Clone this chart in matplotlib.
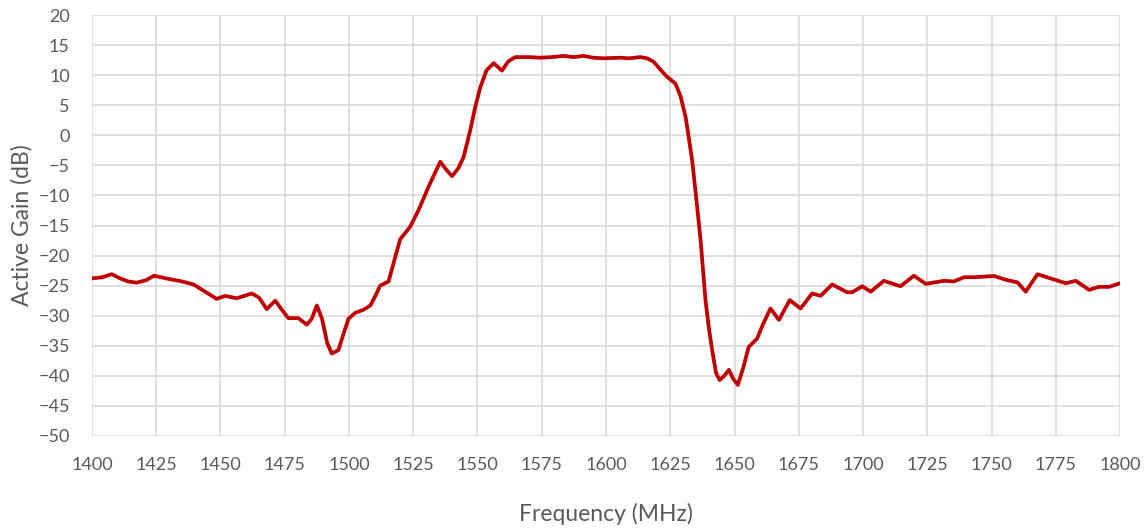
import matplotlib
matplotlib.use("Agg")
import matplotlib.pyplot as plt
import numpy as np

freq_mhz = [1400, 1404, 1407.7, 1411, 1414, 1417.4, 1421, 1424.1, 1430, 1435, 1439.5, 1444,
            1448.5, 1451.8, 1456.3, 1462.2, 1465, 1468.0, 1471.3, 1473.5, 1476.4, 1480.3,
            1483.6, 1485.5, 1487.5, 1489.5, 1491.5, 1493.3, 1495.9, 1497.5, 1499.8, 1502.5,
            1505.7, 1508.3, 1510.5, 1512.1, 1515.4, 1517.5, 1519.9, 1523.8, 1527, 1531,
            1535.5, 1538, 1540.1, 1542.5, 1544.6, 1547.2, 1549, 1551.1, 1553.5, 1556.3,
            1559.5, 1562, 1564.7, 1570, 1574.5, 1579, 1583.5, 1587.4, 1591.3, 1595, 1599.1,
            1605.6, 1609, 1613.4, 1616, 1618.6, 1621, 1623.8, 1627.0, 1629, 1631, 1633.5,
            1635, 1636.8, 1638.7, 1640, 1641.3, 1642.8, 1644.2, 1646, 1647.8, 1649.5, 1651.3,
            1653.5, 1655.5, 1658.8, 1661, 1664.0, 1667.3, 1671.5, 1675.7, 1680.2, 1683.5,
            1688.0, 1693.8, 1695.8, 1699.7, 1703.0, 1708.1, 1714.6, 1719.8, 1724.4, 1731.5,
            1735.4, 1739.3, 1743.2, 1751.0, 1756.2, 1760.1, 1763.3, 1767.9, 1773.0, 1778.9,
            1782.8, 1788.0, 1791.9, 1795.8, 1800]
gain_db = [-23.8, -23.6, -23.1, -23.8, -24.3, -24.5, -24.1, -23.35, -23.9, -24.3, -24.8, -26.0,
           -27.2, -26.7, -27.1, -26.3, -27.0, -28.9, -27.5, -28.8, -30.4, -30.4,
           -31.5, -30.5, -28.3, -30.5, -34.5, -36.3, -35.7, -33.5, -30.5, -29.5,
           -29.0, -28.3, -26.5, -25.0, -24.3, -21.0, -17.3, -15.2, -12.5, -8.5,
           -4.4, -5.8, -6.8, -5.5, -3.6, 0.9, 4.5, 8.0, 10.8, 12.0,
           10.75, 12.3, 13.0, 13.0, 12.9, 13.0, 13.2, 13.0, 13.2, 12.9, 12.8,
           12.9, 12.8, 13.0, 12.8, 12.2, 11.0, 9.7, 8.6, 6.5, 3.0, -4.1,
           -10.0, -17.4, -27.4, -32.0, -35.7, -39.5, -40.7, -40.0, -39.0, -40.5, -41.5,
           -38.5, -35.2, -33.8, -31.5, -28.8, -30.7, -27.4, -28.8, -26.3, -26.7,
           -24.8, -26.1, -26.1, -25.1, -26.0, -24.2, -25.1, -23.35, -24.7, -24.2,
           -24.3, -23.6, -23.6, -23.4, -24.1, -24.45, -26.0, -23.1, -23.8, -24.6,
           -24.2, -25.7, -25.2, -25.2, -24.6]

x_ticks = list(range(1400, 1801, 25))
y_ticks = list(range(-50, 21, 5))

plt.rcParams['font.family'] = ['Lato', 'DejaVu Sans']
fig = plt.figure(figsize=(11.48, 5.29), dpi=100)
ax = fig.add_axes([92/1148, 1 - 436/529, (1120 - 92)/1148, (436 - 15)/529])

ax.plot(freq_mhz, gain_db, color='#c00000', linewidth=2.7, solid_joinstyle='round',
        solid_capstyle='round', zorder=3)

ax.set_xlim(1400, 1800)
ax.set_ylim(-50, 20)
ax.set_xticks(x_ticks)
ax.set_yticks(y_ticks)
ax.grid(True, color='#d9d9d9', linewidth=1.2, zorder=0)
for s in ax.spines.values():
    s.set_visible(False)
ax.tick_params(length=0, labelsize=13, colors='#595959')
ax.tick_params(axis='x', pad=15)
ax.tick_params(axis='y', pad=16)
ax.set_xlabel('Frequency (MHz)', fontsize=16.5, color='#595959', labelpad=22)
ax.set_ylabel('Active Gain (dB)', fontsize=16.5, color='#595959', labelpad=4)

fig.savefig('out.png', dpi=100)
